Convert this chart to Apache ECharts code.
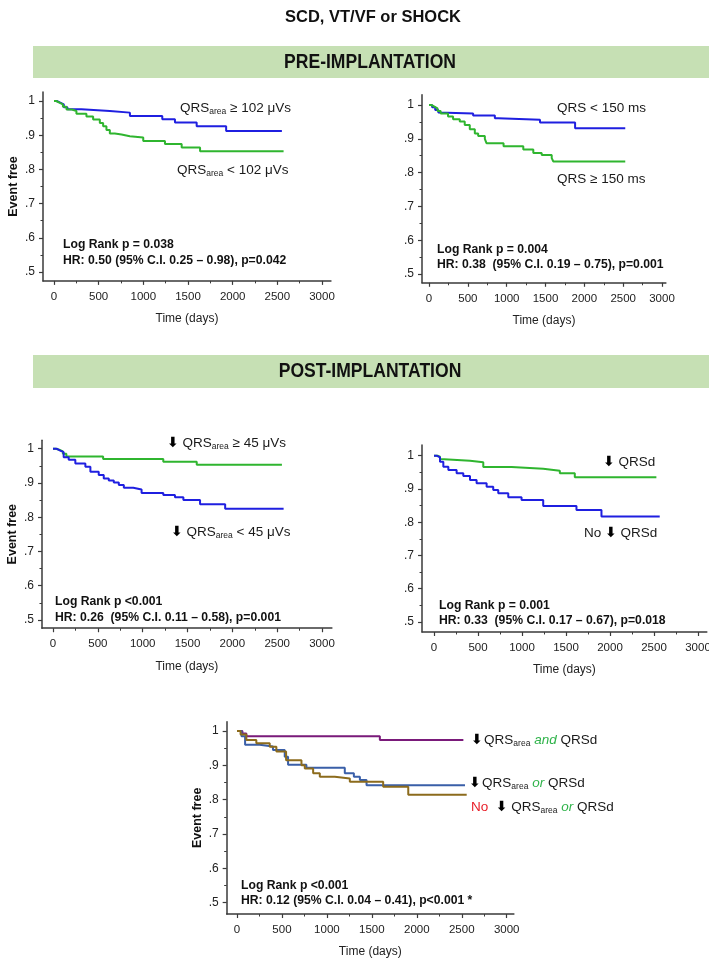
<!DOCTYPE html>
<html><head><meta charset="utf-8">
<script src="https://cdn.jsdelivr.net/npm/echarts@6/dist/echarts.min.js"></script>
<style>html,body{margin:0;padding:0;background:#fff}#c{width:709px;height:961px}</style>
</head><body><div id="c"></div>
<script>
// ---------- data ----------
const xTicks = [0, 500, 1000, 1500, 2000, 2500, 3000];
const xMinorTicks = [250, 750, 1250, 1750, 2250, 2750];
const yTicks = [0.5, 0.6, 0.7, 0.8, 0.9, 1];
const yMinorTicks = [0.55, 0.65, 0.75, 0.85, 0.95];

// Pre-implantation, QRS area
const preAreaHigh = [[0,1],[30,0.995],[70,0.99],[110,0.982],[150,0.976],[307,0.971],[625,0.966],[850,0.956],[1212,0.947],[1354,0.937],[1597,0.926],[1927,0.912],[2551,0.912]];
const preAreaLow = [[0,1],[25,0.995],[60,0.99],[100,0.983],[140,0.975],[200,0.971],[251,0.963],[363,0.955],[438,0.946],[513,0.936],[550,0.926],[587,0.915],[625,0.905],[681,0.902],[756,0.897],[849,0.893],[999,0.883],[1242,0.874],[1429,0.864],[1635,0.853],[2570,0.853]];
// Pre-implantation, QRS duration
const preQrsShort = [[0,1],[40,0.993],[80,0.985],[120,0.978],[138,0.975],[568,0.969],[848,0.961],[891,0.956],[1429,0.948],[1881,0.931],[2527,0.931]];
const preQrsLong = [[0,1],[30,0.995],[70,0.99],[110,0.982],[150,0.975],[245,0.966],[310,0.958],[396,0.951],[460,0.941],[525,0.928],[590,0.916],[633,0.908],[719,0.9],[740,0.887],[960,0.878],[1214,0.868],[1343,0.858],[1451,0.852],[1580,0.843],[1601,0.833],[2527,0.833]];
// Post-implantation, QRS area reduction
const postAreaHigh = [[0,1],[30,0.997],[70,0.992],[110,0.985],[149,0.977],[559,0.97],[1230,0.962],[1603,0.953],[2553,0.953]];
const postAreaLow = [[0,1],[40,0.995],[75,0.99],[119,0.975],[175,0.968],[249,0.957],[361,0.947],[417,0.933],[510,0.923],[566,0.913],[622,0.907],[678,0.901],[734,0.894],[790,0.886],[895,0.881],[988,0.871],[1230,0.865],[1360,0.858],[1454,0.85],[1640,0.838],[1920,0.825],[2572,0.825]];
// Post-implantation, QRSd reduction
const postQrsdYes = [[0,1],[40,0.997],[68,0.99],[87,0.985],[409,0.98],[560,0.966],[882,0.961],[1241,0.955],[1430,0.947],[1600,0.935],[2527,0.935]];
const postQrsdNo = [[0,1],[30,0.995],[68,0.982],[106,0.967],[163,0.957],[257,0.947],[333,0.939],[409,0.927],[484,0.917],[598,0.907],[673,0.897],[730,0.887],[844,0.875],[995,0.867],[1241,0.849],[1619,0.837],[1903,0.817],[2565,0.817]];
// Combined
const combBoth = [[0,1],[30,1],[60,0.993],[104,0.985],[1589,0.974],[2518,0.974]];
const combEither = [[0,1],[50,0.985],[90,0.96],[252,0.955],[400,0.945],[531,0.925],[568,0.902],[772,0.893],[1199,0.877],[1300,0.867],[1367,0.857],[1441,0.842],[2536,0.842]];
const combNone = [[0,1],[40,0.99],[104,0.974],[215,0.964],[364,0.954],[438,0.94],[546,0.915],[717,0.9],[754,0.891],[847,0.877],[921,0.867],[1088,0.862],[1255,0.852],[1626,0.838],[1905,0.814],[2555,0.814]];

// ---------- layout / style ----------
const SANS = "'Liberation Sans',Arial,sans-serif";
const BLUE = '#1f1fe0', GREEN = '#2fb52f';
const PURPLE = '#7a1a7a', STEEL = '#3a5fa8', OLIVE = '#8c6b1c';

const panels = [
  {x0:54,  x3000:322,   y1:101,   y05:272,   xmin:-123, xmax:3100, ymin:0.474, ymax:1.026, yname:true},
  {x0:429, x3000:662,   y1:105,   y05:274,   xmin:-90,  xmax:3050, ymin:0.474, ymax:1.03,  yname:false},
  {x0:53,  x3000:322,   y1:448.7, y05:620,   xmin:-123, xmax:3110, ymin:0.476, ymax:1.025, yname:true},
  {x0:434, x3000:698,   y1:455.7, y05:622,   xmin:-136, xmax:3100, ymin:0.47,  ymax:1.032, yname:false},
  {x0:237, x3000:506.7, y1:731,   y05:902.7, xmin:-115, xmax:3080, ymin:0.467, ymax:1.027, yname:true}
];
const seriesDefs = [
  [preAreaHigh, BLUE, 0], [preAreaLow, GREEN, 0],
  [preQrsShort, BLUE, 1], [preQrsLong, GREEN, 1],
  [postAreaHigh, GREEN, 2], [postAreaLow, BLUE, 2],
  [postQrsdYes, GREEN, 3], [postQrsdNo, BLUE, 3],
  [combBoth, PURPLE, 4], [combEither, STEEL, 4], [combNone, OLIVE, 4]
];

const AX = '#3a3a3a';
const grids = [], xAxes = [], yAxes = [];
panels.forEach((p, i) => {
  const kx = (p.x3000 - p.x0) / 3000, ky = (p.y05 - p.y1) / 0.5;
  grids.push({left: p.x0 + p.xmin * kx, top: p.y1 - (p.ymax - 1) * ky,
    width: (p.xmax - p.xmin) * kx, height: (p.ymax - p.ymin) * ky,
    containLabel: false, outerBoundsMode: 'none'});
  xAxes.push({type:'value', gridIndex:i, min:p.xmin, max:p.xmax, position:'bottom',
    axisLine:{onZero:false, lineStyle:{color:AX, width:1.5}},
    axisTick:{customValues:xTicks, length:4, lineStyle:{color:AX, width:1.2}},
    axisLabel:{customValues:xTicks, margin:10, color:'#222', fontFamily:SANS, fontSize:11.5,
      formatter: v => String(Math.round(v))},
    splitLine:{show:false},
    name:'Time (days)', nameLocation:'middle', nameGap:32,
    nameTextStyle:{fontFamily:SANS, fontSize:12, color:'#222'}});
  yAxes.push({type:'value', gridIndex:i, min:p.ymin, max:p.ymax, position:'left',
    axisLine:{onZero:false, lineStyle:{color:AX, width:1.5}},
    axisTick:{customValues:yTicks, length:4, lineStyle:{color:AX, width:1.2}},
    axisLabel:{customValues:yTicks, margin:8, color:'#222', fontFamily:SANS, fontSize:12,
      formatter: v => Math.abs(v - 1) < 1e-9 ? '1' : '.' + Math.round(v * 10)},
    splitLine:{show:false},
    name: p.yname ? 'Event free' : '', nameLocation:'middle', nameGap:23,
    nameTextStyle:{fontFamily:SANS, fontSize:12.5, fontWeight:'bold', color:'#111'}});
});
// minor tick axes
panels.forEach((p, i) => {
  xAxes.push({type:'value', gridIndex:i, min:p.xmin, max:p.xmax, position:'bottom',
    axisLine:{show:false, onZero:false}, axisLabel:{show:false}, splitLine:{show:false},
    axisTick:{customValues:xMinorTicks, length:2.5, lineStyle:{color:AX, width:1}}});
  yAxes.push({type:'value', gridIndex:i, min:p.ymin, max:p.ymax, position:'left',
    axisLine:{show:false, onZero:false}, axisLabel:{show:false}, splitLine:{show:false},
    axisTick:{customValues:yMinorTicks, length:2.5, lineStyle:{color:AX, width:1}}});
});

const series = seriesDefs.map(([d, c, g]) => ({
  type:'line', step:'end', xAxisIndex:g, yAxisIndex:g, data:d,
  showSymbol:false, symbol:'none', silent:true, animation:false,
  lineStyle:{color:c, width:2}
}));

// ---------- text graphics ----------
const rich = {
  m:{fontFamily:SANS, fontSize:13.5, fill:'#1a1a1a', lineHeight:16},
  s:{fontFamily:SANS, fontSize:8.5, fill:'#1a1a1a', verticalAlign:'bottom', lineHeight:6},
  a:{fontFamily:"'DejaVu Sans',sans-serif", fontSize:14, fontWeight:'bold', fill:'#000', lineHeight:16},
  sp:{fontFamily:SANS, fontSize:5, lineHeight:16},
  g:{fontFamily:SANS, fontSize:13.5, fontStyle:'italic', fill:'#2fb34a', lineHeight:16},
  r:{fontFamily:SANS, fontSize:13.5, fill:'#e8202a', lineHeight:16}
};
function lab(x, y, text) {
  return {type:'text', x:x, y:y, silent:true,
    style:{text:text, rich:rich, textAlign:'left', textVerticalAlign:'middle'}};
}
function bold(x, y, text) {
  return {type:'text', x:x, y:y, silent:true,
    style:{text:text, fontFamily:SANS, fontSize:12.2, fontWeight:'bold', fill:'#111',
      textAlign:'left', textVerticalAlign:'middle'}};
}
function heading(x, y, text, size, sx) {
  return {type:'text', x:x, y:y, scaleX:sx, silent:true,
    style:{text:text, fontFamily:SANS, fontSize:size, fontWeight:'bold', fill:'#111',
      textAlign:'center', textVerticalAlign:'middle'}};
}
const graphics = [
  heading(373, 17, 'SCD, VT/VF or SHOCK', 17, 0.97),
  {type:'rect', shape:{x:33, y:46, width:676, height:32}, style:{fill:'#c6e0b4'}},
  heading(370, 63, 'PRE-IMPLANTATION', 19.5, 0.9),
  {type:'rect', shape:{x:33, y:355, width:676, height:33}, style:{fill:'#c6e0b4'}},
  heading(370, 372, 'POST-IMPLANTATION', 19.5, 0.9),

  lab(180, 108, '{m|QRS}{s|area}{m| ≥ 102 μVs}'),
  lab(177, 170, '{m|QRS}{s|area}{m| < 102 μVs}'),
  bold(63, 245, 'Log Rank p = 0.038'),
  bold(63, 261, 'HR: 0.50 (95% C.I. 0.25 – 0.98), p=0.042'),

  lab(557, 108, '{m|QRS < 150 ms}'),
  lab(557, 179, '{m|QRS ≥ 150 ms}'),
  bold(437, 250, 'Log Rank p = 0.004'),
  bold(437, 265, 'HR: 0.38  (95% C.I. 0.19 – 0.75), p=0.001'),

  lab(167, 443, '{a|⬇}{m| QRS}{s|area}{m| ≥ 45 μVs}'),
  lab(171, 532, '{a|⬇}{m| QRS}{s|area}{m| < 45 μVs}'),
  bold(55, 602, 'Log Rank p <0.001'),
  bold(55, 618, 'HR: 0.26  (95% C.I. 0.11 – 0.58), p=0.001'),

  lab(603, 462, '{a|⬇}{m| QRSd}'),
  lab(584, 533, '{m|No }{a|⬇}{m| QRSd}'),
  bold(439, 606, 'Log Rank p = 0.001'),
  bold(439, 621, 'HR: 0.33  (95% C.I. 0.17 – 0.67), p=0.018'),

  lab(471, 740, '{a|⬇}{sp| }{m|QRS}{s|area}{g| and }{m|QRSd}'),
  lab(469, 783, '{a|⬇}{sp| }{m|QRS}{s|area}{g| or }{m|QRSd}'),
  lab(471, 807, '{r|No  }{a|⬇}{m| QRS}{s|area}{g| or }{m|QRSd}'),
  bold(241, 886, 'Log Rank p <0.001'),
  bold(241, 901, 'HR: 0.12 (95% C.I. 0.04 – 0.41), p<0.001 *')
];

const chart = echarts.init(document.getElementById('c'), null, {renderer:'canvas'});
chart.setOption({
  backgroundColor:'#fff', animation:false,
  grid:grids, xAxis:xAxes, yAxis:yAxes, series:series, graphic:graphics
});
</script></body></html>
